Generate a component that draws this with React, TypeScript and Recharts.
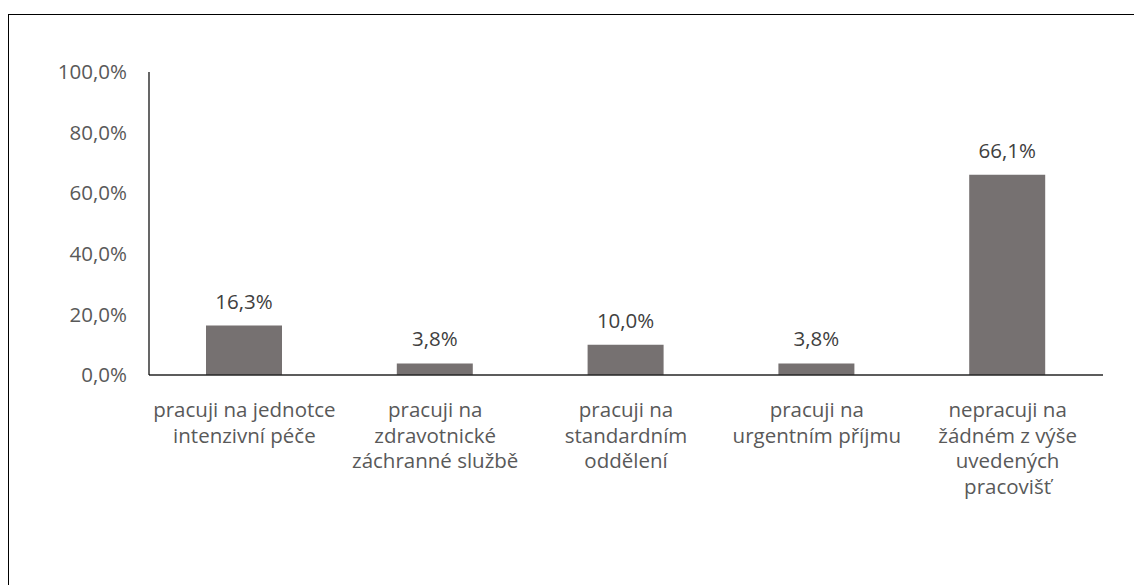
import React from 'react';
import { BarChart, Bar, XAxis, YAxis, LabelList } from 'recharts';

const categories = [
  'pracuji na jednotce intenzivní péče',
  'pracuji na zdravotnické záchranné službě',
  'pracuji na standardním oddělení',
  'pracuji na urgentním příjmu',
  'nepracuji na žádném z výše uvedených pracovišť',
];

// how the category labels wrap in the original
const categoryLines = [
  ['pracuji na jednotce', 'intenzivní péče'],
  ['pracuji na', 'zdravotnické', 'záchranné službě'],
  ['pracuji na', 'standardním', 'oddělení'],
  ['pracuji na', 'urgentním příjmu'],
  ['nepracuji na', 'žádném z výše', 'uvedených', 'pracovišť'],
];

const shares = [16.3, 3.8, 10.0, 3.8, 66.1];

const yTicks = [0, 20, 40, 60, 80, 100];

const FONT = '"Open Sans", sans-serif';
const TEXT = '#595959';

const fmtPct = (v: number) => `${v.toFixed(1).replace('.', ',')}%`;

const CategoryTick = ({ x, y, payload }: any) => {
  const lines = categoryLines[payload.index] || [String(payload.value)];
  return (
    <text x={x} y={y} textAnchor="middle" fill={TEXT} fontFamily={FONT} fontSize={20.5}>
      {lines.map((line, i) => (
        <tspan key={i} x={x} dy={i === 0 ? 34 : 25.6}>
          {line}
        </tspan>
      ))}
    </text>
  );
};

const App = () => {
  const data = categories.map((name, i) => ({ name, value: shares[i] }));

  return (
    <div style={{ position: 'fixed', left: 0, top: 0, width: 1134, height: 585, overflow: 'hidden', background: '#fff' }}>
      {/* outer frame, runs off the right and bottom edge */}
      <div style={{ position: 'absolute', left: 8, top: 14, width: 1200, height: 700, border: '1.5px solid #000' }} />
      <div style={{ position: 'absolute', left: 0, top: 0 }}>
        <BarChart width={1134} height={585} data={data} margin={{ top: 72, right: 31, left: 0, bottom: 90 }}>
          <XAxis
            dataKey="name"
            axisLine={{ stroke: '#262626', strokeWidth: 1.5 }}
            tickLine={false}
            interval={0}
            height={120}
            tick={<CategoryTick />}
          />
          <YAxis
            domain={[0, 100]}
            ticks={yTicks}
            width={149}
            axisLine={{ stroke: '#000', strokeWidth: 1.2 }}
            tickLine={false}
            tickSize={0}
            tickMargin={22}
            tickFormatter={fmtPct}
            tick={{ fill: TEXT, fontFamily: FONT, fontSize: 20.5 }}
          />
          <Bar dataKey="value" fill="#767171" barSize={76} isAnimationActive={false}>
            <LabelList
              dataKey="value"
              position="top"
              offset={17}
              formatter={(v: any) => fmtPct(Number(v))}
              style={{ fill: '#404040', fontFamily: FONT, fontSize: 20.5 }}
            />
          </Bar>
        </BarChart>
      </div>
    </div>
  );
};

export default App;
